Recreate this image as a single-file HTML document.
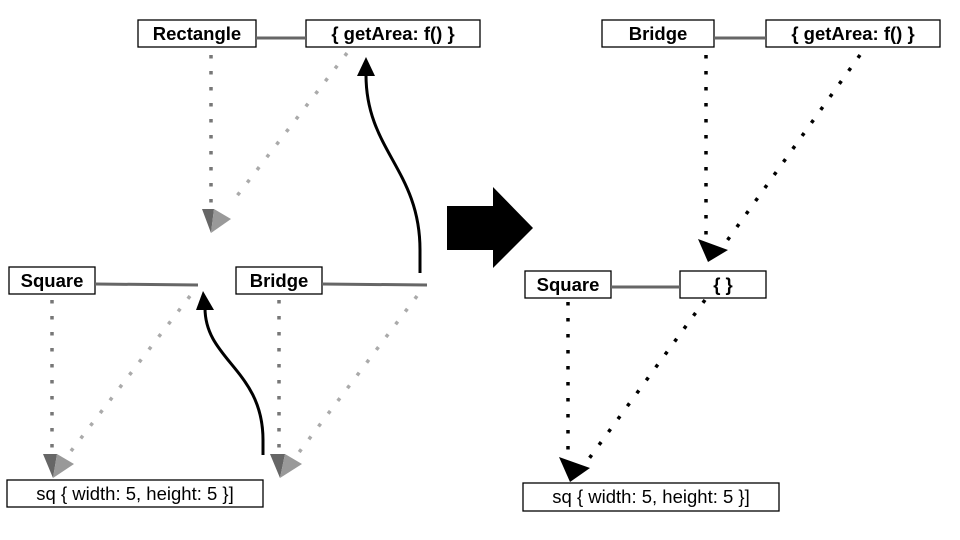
<!DOCTYPE html>
<html><head><meta charset="utf-8"><style>
html,body{margin:0;padding:0;background:#fff;}
svg{display:block;}
text{font-family:"Liberation Sans",Arial,sans-serif;font-size:18.5px;fill:#000;}
.b{font-weight:bold;}
</style></head><body>
<svg width="960" height="540" viewBox="0 0 960 540" xmlns="http://www.w3.org/2000/svg">
<g fill="#fff" stroke="#000" stroke-width="1.3">
<rect x="138" y="20" width="118" height="27"/>
<rect x="306" y="20" width="174" height="27"/>
<rect x="9" y="267" width="86" height="27"/>
<rect x="236" y="267" width="86" height="27"/>
<rect x="7" y="480" width="256" height="27"/>
<rect x="602" y="20" width="112" height="27"/>
<rect x="766" y="20" width="174" height="27"/>
<rect x="525" y="271" width="86" height="27"/>
<rect x="680" y="271" width="86" height="27"/>
<rect x="523" y="483" width="256" height="28"/>
</g>
<g stroke="#666" stroke-width="3">
<line x1="256" y1="38" x2="306" y2="38"/>
<line x1="95" y1="284" x2="198" y2="285"/>
<line x1="322" y1="284" x2="427" y2="285"/>
<line x1="714" y1="38" x2="766" y2="38"/>
<line x1="611" y1="287" x2="680" y2="287"/>
</g>
<g fill="none" stroke-width="3.5" stroke-dasharray="3.5 12.5">
<line x1="211" y1="55" x2="211" y2="205" stroke="#777"/>
<line x1="52" y1="300" x2="52" y2="452" stroke="#777"/>
<line x1="279" y1="300" x2="279" y2="452" stroke="#777"/>
<line x1="347" y1="53" x2="230" y2="205" stroke="#aaa"/>
<line x1="190" y1="296" x2="68" y2="455" stroke="#aaa"/>
<line x1="417" y1="296" x2="297" y2="455" stroke="#aaa"/>
<line x1="706" y1="55" x2="706" y2="238" stroke="#000"/>
<line x1="860" y1="55" x2="724" y2="245" stroke="#000"/>
<line x1="568" y1="302" x2="568" y2="455" stroke="#000"/>
<line x1="705" y1="300" x2="588" y2="460" stroke="#000"/>
</g>
<g>
<polygon points="202,209 214,209 211,233" fill="#666"/>
<polygon points="214,209 231,219 211,233" fill="#999"/>
<polygon points="43,454 57,454 53,478" fill="#666"/>
<polygon points="57,454 74,464 53,478" fill="#999"/>
<polygon points="270,454 285,454 280,478" fill="#666"/>
<polygon points="285,454 302,464 280,478" fill="#999"/>
<polygon points="698,239 728,250 708,262" fill="#000"/>
<polygon points="559,457 590,468 570,482" fill="#000"/>
</g>
<g fill="none" stroke="#000" stroke-width="3">
<path d="M420,273 L420,250 C420,170 366,150 366,75"/>
<path d="M263,455 L263,440 C263,370 205,360 205,308"/>
</g>
<polygon points="357,76 375,76 366,57" fill="#000"/>
<polygon points="196,310 214,310 203,291" fill="#000"/>
<polygon points="447,206 493,206 493,187 533,228 493,268 493,250 447,250" fill="#000"/>
<text class="b" x="197" y="40" text-anchor="middle">Rectangle</text>
<text class="b" x="393" y="40" text-anchor="middle">{ getArea: f() }</text>
<text class="b" x="52" y="287" text-anchor="middle">Square</text>
<text class="b" x="279" y="287" text-anchor="middle">Bridge</text>
<text x="135" y="500" text-anchor="middle">sq { width: 5, height: 5 }]</text>
<text class="b" x="658" y="40" text-anchor="middle">Bridge</text>
<text class="b" x="853" y="40" text-anchor="middle">{ getArea: f() }</text>
<text class="b" x="568" y="291" text-anchor="middle">Square</text>
<text class="b" x="723" y="291" text-anchor="middle">{ }</text>
<text x="651" y="503" text-anchor="middle">sq { width: 5, height: 5 }]</text>
</svg>
</body></html>
